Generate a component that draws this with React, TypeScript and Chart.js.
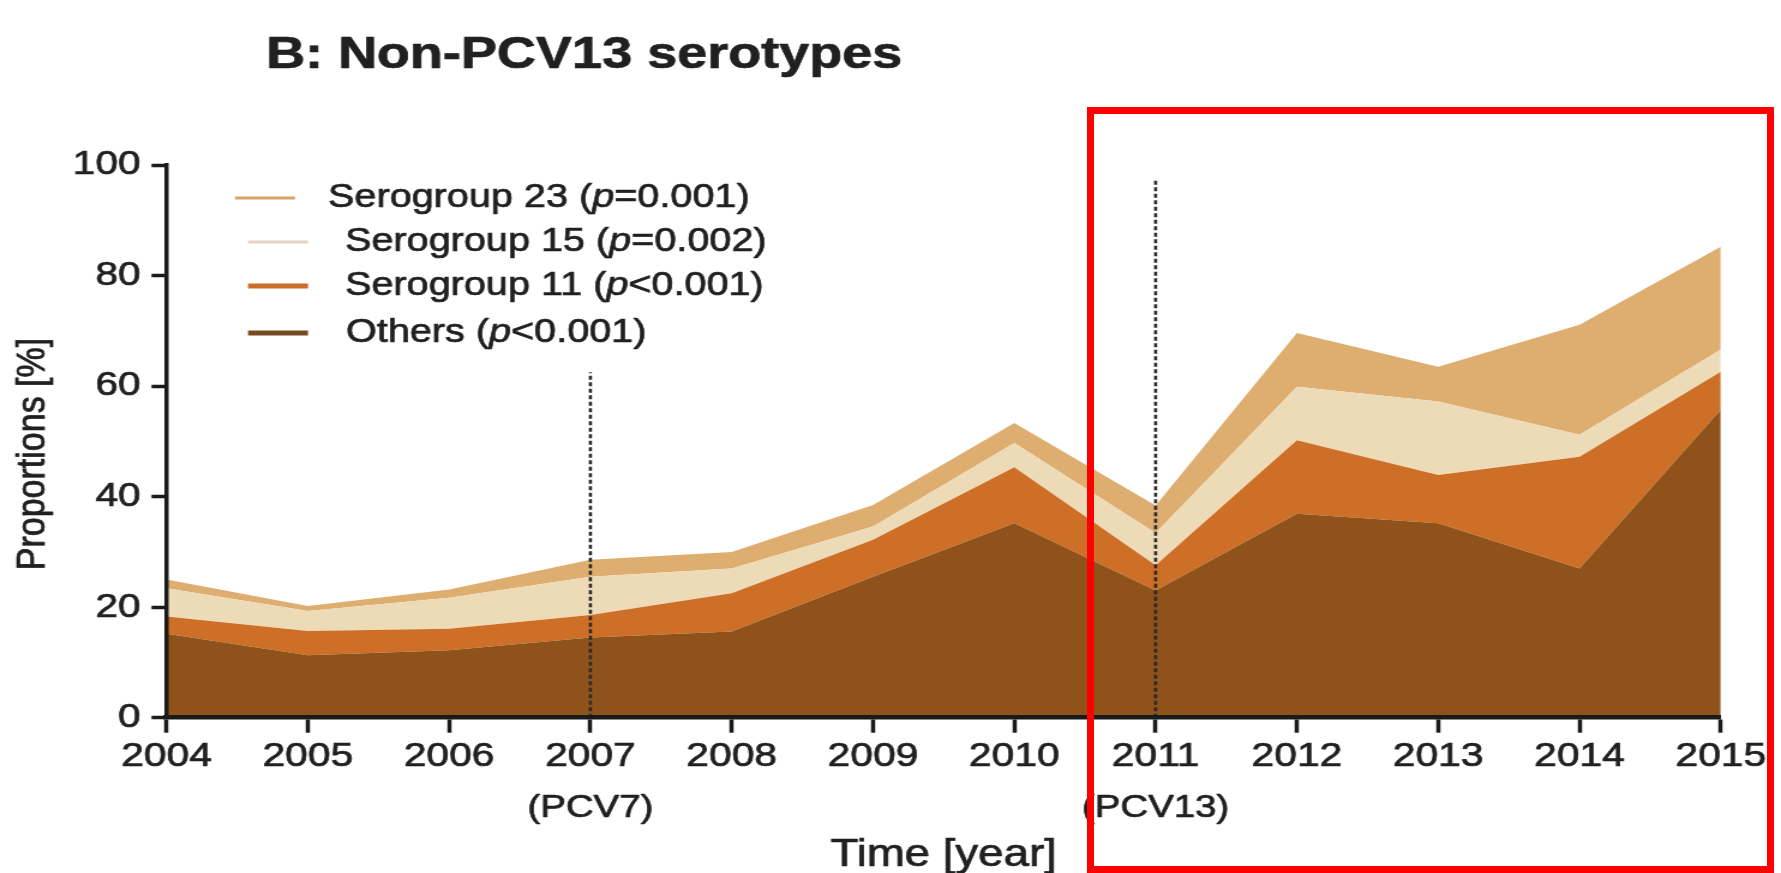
import React, { useEffect, useRef } from 'react';
import { Chart, registerables } from 'chart.js';

Chart.register(...registerables);

// ---------------- data ----------------
const years = ['2004', '2005', '2006', '2007', '2008', '2009', '2010', '2011', '2012', '2013', '2014', '2015'];
const others = [15.2, 11.3, 12.2, 14.5, 15.6, 25.5, 35.2, 23.0, 36.9, 35.2, 27.0, 55.7];
const serogroup11 = [3.1, 4.4, 3.9, 4.1, 6.9, 6.7, 10.1, 4.6, 13.3, 8.7, 20.2, 6.9];
const serogroup15 = [5.1, 3.6, 5.6, 6.9, 4.5, 2.4, 4.4, 5.8, 9.7, 13.3, 4.0, 4.0];
const serogroup23 = [1.6, 0.9, 1.5, 3.1, 3.0, 3.9, 3.6, 5.0, 9.7, 6.3, 19.9, 18.6];

const legendNames = ['Serogroup 23', 'Serogroup 15', 'Serogroup 11', 'Others'];
const legendPValues = ['=0.001', '=0.002', '<0.001', '<0.001'];

const vaccineYears = ['2007', '2011'];
const vaccineLabels = ['(PCV7)', '(PCV13)'];
const vaccineLineTops = [62.5, 97.5];

const yMin = 0;
const yMax = 100;
const yStep = 20;

const titleText = 'B: Non-PCV13 serotypes';
const xTitle = 'Time [year]';
const yTitle = 'Proportions [%]';

// ---------------- layout / style ----------------
const FULL_W = 1781;
const FULL_H = 873;
const CW = 1484; // canvas width before horizontal stretch
const S = FULL_W / CW;
const FONT = '"Liberation Sans", Arial, Helvetica, sans-serif';
const PLOT_LEFT = 166.5 / S;
const PLOT_RIGHT = 1720.8 / S;
const PLOT_TOP = 165;
const PLOT_BOTTOM = 717.7;
const TEXT = '#202020';
const AXIS = '#1a1a1a';
const STROKE_W = 0.7;

const COLORS = {
  others: '#8e521a',
  s11: '#cd6f27',
  s15: '#eddbb7',
  s23: '#deae70',
};
const legendLineColors = ['#d8a266', '#e3d4c2', '#cc6a28', '#7a4a20'];
const legendLineWidths = [3, 3, 5, 5];

function heavyText(ctx: any, text: string, x: number, y: number) {
  ctx.fillText(text, x, y);
  ctx.strokeText(text, x, y);
}

const overlayPlugin = {
  id: 'overlay',
  afterDatasetsDraw(chart: any) {
    const ctx = chart.ctx;
    const xs = chart.scales.x;
    const ys = chart.scales.y;
    ctx.save();
    ctx.strokeStyle = '#2a2a2a';
    ctx.lineWidth = 2.6;
    ctx.setLineDash([4, 2.5]);
    vaccineYears.forEach((yr, i) => {
      const x = xs.getPixelForValue(years.indexOf(yr));
      ctx.beginPath();
      ctx.moveTo(x, ys.getPixelForValue(0));
      ctx.lineTo(x, ys.getPixelForValue(vaccineLineTops[i]));
      ctx.stroke();
    });
    ctx.restore();
  },
  afterDraw(chart: any) {
    const ctx = chart.ctx;
    const xs = chart.scales.x;
    const area = chart.chartArea;
    ctx.save();
    ctx.fillStyle = TEXT;
    ctx.strokeStyle = TEXT;
    ctx.lineWidth = STROKE_W;
    ctx.lineJoin = 'round';

    // title
    ctx.font = `bold 45px ${FONT}`;
    ctx.textAlign = 'left';
    ctx.textBaseline = 'alphabetic';
    heavyText(ctx, titleText, 266 / S, 68);

    // vaccine labels
    ctx.font = `32px ${FONT}`;
    ctx.textAlign = 'center';
    vaccineYears.forEach((yr, i) => {
      const x = xs.getPixelForValue(years.indexOf(yr));
      heavyText(ctx, vaccineLabels[i], x, 817);
    });

    // x title
    ctx.font = `38px ${FONT}`;
    ctx.textAlign = 'center';
    heavyText(ctx, xTitle, (area.left + area.right) / 2, 866);

    // y title
    ctx.save();
    ctx.translate(45 / S, 454);
    ctx.rotate(-Math.PI / 2);
    ctx.font = `34px ${FONT}`;
    ctx.textAlign = 'center';
    heavyText(ctx, yTitle, 0, 0);
    ctx.restore();

    // legend
    const rowsY = [198, 242, 286, 333];
    const lineX0 = [235, 248, 248, 248];
    const textX = [328, 345, 345, 346];
    ctx.textBaseline = 'middle';
    ctx.textAlign = 'left';
    const LF = 33;
    legendNames.forEach((name, i) => {
      const y = rowsY[i];
      ctx.save();
      ctx.strokeStyle = legendLineColors[i];
      ctx.lineWidth = legendLineWidths[i];
      ctx.beginPath();
      ctx.moveTo(lineX0[i] / S, y);
      ctx.lineTo((lineX0[i] + 60) / S, y);
      ctx.stroke();
      ctx.restore();
      let x = textX[i] / S;
      const a = `${name} (`;
      ctx.font = `${LF}px ${FONT}`;
      heavyText(ctx, a, x, y);
      x += ctx.measureText(a).width;
      ctx.font = `italic ${LF}px ${FONT}`;
      heavyText(ctx, 'p', x, y);
      x += ctx.measureText('p').width;
      ctx.font = `${LF}px ${FONT}`;
      heavyText(ctx, `${legendPValues[i]})`, x, y);
    });
    ctx.restore();
  },
};

export default function App() {
  const ref = useRef<HTMLCanvasElement | null>(null);

  useEffect(() => {
    if (!ref.current) return;
    const mk = (label: string, data: number[], color: string, fill: any) => ({
      label,
      data,
      backgroundColor: color,
      borderColor: color,
      borderWidth: 0,
      pointRadius: 0,
      tension: 0,
      fill,
    });
    const chart = new Chart(ref.current, {
      type: 'line',
      data: {
        labels: years,
        datasets: [
          mk('Others', others, COLORS.others, 'origin'),
          mk('Serogroup 11', serogroup11, COLORS.s11, '-1'),
          mk('Serogroup 15', serogroup15, COLORS.s15, '-1'),
          mk('Serogroup 23', serogroup23, COLORS.s23, '-1'),
        ],
      },
      options: {
        responsive: false,
        animation: false,
        devicePixelRatio: 1,
        layout: { padding: { left: 0, right: CW - PLOT_RIGHT, top: PLOT_TOP, bottom: 0 } },
        plugins: {
          legend: { display: false },
          title: { display: false },
          tooltip: { enabled: false },
        },
        scales: {
          x: {
            type: 'category',
            offset: false,
            grid: {
              drawOnChartArea: false,
              drawTicks: true,
              tickLength: 15,
              tickWidth: 3.5,
              tickColor: AXIS,
            },
            border: { display: true, width: 4.5, color: AXIS, z: 1 },
            ticks: {
              font: { family: FONT, size: 34 },
              color: TEXT,
              textStrokeColor: TEXT,
              textStrokeWidth: STROKE_W,
              padding: 4,
              maxRotation: 0,
              autoSkip: false,
            },
            afterFit: (s: any) => {
              s.height = FULL_H - PLOT_BOTTOM;
            },
          },
          y: {
            stacked: true,
            min: yMin,
            max: yMax,
            grid: {
              drawOnChartArea: false,
              drawTicks: true,
              tickLength: 12.5,
              tickWidth: 3.5,
              tickColor: AXIS,
            },
            border: { display: true, width: 3.5, color: AXIS, z: 1 },
            ticks: {
              stepSize: yStep,
              font: { family: FONT, size: 34 },
              color: TEXT,
              textStrokeColor: TEXT,
              textStrokeWidth: STROKE_W,
              padding: 9,
            },
            afterFit: (s: any) => {
              s.width = PLOT_LEFT;
            },
          },
        },
      } as any,
      plugins: [overlayPlugin],
    });
    return () => chart.destroy();
  }, []);

  return (
    <div
      style={{
        position: 'fixed',
        left: 0,
        top: 0,
        width: FULL_W,
        height: FULL_H,
        overflow: 'hidden',
        background: '#ffffff',
      }}
    >
      <canvas
        ref={ref}
        width={CW}
        height={FULL_H}
        style={{
          position: 'absolute',
          left: 0,
          top: 0,
          width: CW + 'px',
          height: FULL_H + 'px',
          transform: `scaleX(${S})`,
          transformOrigin: '0 0',
        }}
      />
      <div
        style={{
          position: 'absolute',
          left: 1087,
          top: 107,
          width: 687,
          height: 766,
          boxSizing: 'border-box',
          border: '7px solid #ff0000',
          pointerEvents: 'none',
        }}
      />
    </div>
  );
}
